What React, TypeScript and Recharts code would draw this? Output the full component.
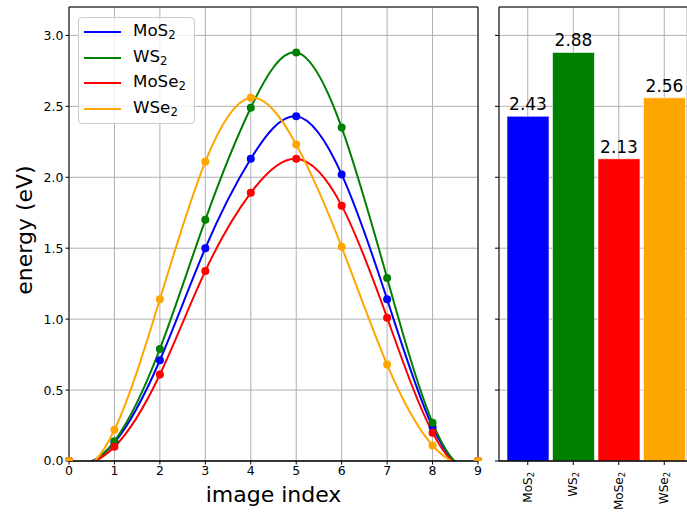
import React from 'react'
import {
  LineChart,
  Line,
  BarChart,
  Bar,
  Cell,
  XAxis,
  YAxis,
  CartesianGrid,
  ReferenceLine,
  Legend,
  LabelList,
} from 'recharts'

// NEB energy profiles for the four TMD monolayers
const imageIndex = [0, 1, 2, 3, 4, 5, 6, 7, 8, 9]
const mos2 = [0, 0.13, 0.71, 1.5, 2.13, 2.43, 2.02, 1.14, 0.24, 0]
const ws2 = [0, 0.14, 0.79, 1.7, 2.49, 2.88, 2.35, 1.29, 0.27, 0]
const mose2 = [0, 0.1, 0.61, 1.34, 1.89, 2.13, 1.8, 1.01, 0.2, 0]
const wse2 = [0, 0.22, 1.14, 2.11, 2.56, 2.23, 1.51, 0.68, 0.11, 0]

const materials = ['MoS2', 'WS2', 'MoSe2', 'WSe2']
const colors = ['#0000ff', '#008000', '#ff0000', '#ffa500']
const barriers = [2.43, 2.88, 2.13, 2.56]

const energyTicks = [0, 0.5, 1, 1.5, 2, 2.5, 3]

const profiles = [mos2, ws2, mose2, wse2]

const lineData = imageIndex.map((x, i) => {
  const row: Record<string, number> = { x }
  materials.forEach((m, k) => {
    row[m] = profiles[k][i]
  })
  return row
})

const barData = materials.map((name, i) => ({ name, value: barriers[i] }))

const FONT = '"DejaVu Sans", sans-serif'
const GRID = '#b0b0b0'

// Cubic spline with not-a-knot end conditions, as a d3-style curve factory.
// Solves for the second derivatives and emits one bezier per segment.
function notAKnotSpline(context: any) {
  let xs: number[] = []
  let ys: number[] = []

  const solve = (A: number[][], b: number[]) => {
    const n = b.length
    for (let c = 0; c < n; c++) {
      let p = c
      for (let r = c + 1; r < n; r++) if (Math.abs(A[r][c]) > Math.abs(A[p][c])) p = r
      ;[A[c], A[p]] = [A[p], A[c]]
      ;[b[c], b[p]] = [b[p], b[c]]
      for (let r = c + 1; r < n; r++) {
        const f = A[r][c] / A[c][c]
        for (let k = c; k < n; k++) A[r][k] -= f * A[c][k]
        b[r] -= f * b[c]
      }
    }
    const out = new Array(n).fill(0)
    for (let r = n - 1; r >= 0; r--) {
      let s = b[r]
      for (let k = r + 1; k < n; k++) s -= A[r][k] * out[k]
      out[r] = s / A[r][r]
    }
    return out
  }

  const draw = () => {
    const n = xs.length
    if (!n) return
    context.moveTo(xs[0], ys[0])
    if (n < 4) {
      for (let i = 1; i < n; i++) context.lineTo(xs[i], ys[i])
      return
    }
    const h = xs.slice(1).map((x, i) => x - xs[i])
    const A = Array.from({ length: n }, () => new Array(n).fill(0))
    const b = new Array(n).fill(0)
    A[0][0] = h[1]
    A[0][1] = -(h[0] + h[1])
    A[0][2] = h[0]
    for (let i = 1; i < n - 1; i++) {
      A[i][i - 1] = h[i - 1]
      A[i][i] = 2 * (h[i - 1] + h[i])
      A[i][i + 1] = h[i]
      b[i] = 6 * ((ys[i + 1] - ys[i]) / h[i] - (ys[i] - ys[i - 1]) / h[i - 1])
    }
    A[n - 1][n - 3] = h[n - 2]
    A[n - 1][n - 2] = -(h[n - 3] + h[n - 2])
    A[n - 1][n - 1] = h[n - 3]
    const M = solve(A, b)
    for (let i = 0; i < n - 1; i++) {
      const hi = h[i]
      const slope = (ys[i + 1] - ys[i]) / hi
      const d0 = slope - (hi * (2 * M[i] + M[i + 1])) / 6
      const d1 = slope + (hi * (M[i] + 2 * M[i + 1])) / 6
      context.bezierCurveTo(
        xs[i] + hi / 3,
        ys[i] + (hi / 3) * d0,
        xs[i + 1] - hi / 3,
        ys[i + 1] - (hi / 3) * d1,
        xs[i + 1],
        ys[i + 1],
      )
    }
  }

  return {
    areaStart() {},
    areaEnd() {},
    lineStart() {
      xs = []
      ys = []
    },
    lineEnd() {
      draw()
    },
    point(x: number, y: number) {
      xs.push(+x)
      ys.push(+y)
    },
  }
}

// split "MoSe2" -> ["MoSe", "2"]
function splitFormula(text: string) {
  const m = text.match(/^(.*?)(\d+)$/)
  return m ? [m[1], m[2]] : [text, '']
}

function HtmlFormula({ text }: { text: string }) {
  const [base, sub] = splitFormula(text)
  return (
    <span>
      {base}
      {sub && (
        <span style={{ fontSize: '0.7em', verticalAlign: '-0.28em' }}>{sub}</span>
      )}
    </span>
  )
}

// legend keeps the plotting order of the series
function LegendBox() {
  return (
    <div
      style={{
        width: 117,
        height: 107,
        boxSizing: 'border-box',
        border: '1px solid #cccccc',
        borderRadius: 4,
        background: 'rgba(255,255,255,0.8)',
        paddingTop: 1,
        fontFamily: FONT,
      }}
    >
      {materials.map((m, k) => (
        <div key={m} style={{ display: 'flex', alignItems: 'center', height: 25.7 }}>
          <div style={{ marginLeft: 5, width: 37, height: 2, background: colors[k] }} />
          <div style={{ marginLeft: 12, fontSize: 16.7, color: '#000', lineHeight: 1 }}>
            <HtmlFormula text={m} />
          </div>
        </div>
      ))}
    </div>
  )
}

// rotated category label under each bar
function BarTick(props: any) {
  const { x, y, payload } = props
  const [base, sub] = splitFormula(String(payload.value))
  return (
    <text
      transform={`translate(${x},${y + 5}) rotate(-90)`}
      textAnchor="end"
      dominantBaseline="central"
      fontSize={12}
      fill="#000"
      fontFamily={FONT}
    >
      {base}
      <tspan fontSize={8.4} dy={3}>
        {sub}
      </tspan>
    </text>
  )
}

const noTick = () => <g />

export default function App() {
  return (
    <div
      style={{
        position: 'absolute',
        left: 0,
        top: 0,
        width: 687,
        height: 516,
        background: '#fff',
        fontFamily: FONT,
      }}
    >
      <div style={{ position: 'absolute', left: 0, top: 0 }}>
        <LineChart
          width={490}
          height={516}
          data={lineData}
          margin={{ top: 7, right: 12, bottom: 0, left: 0 }}
        >
          <CartesianGrid stroke={GRID} strokeWidth={1} />
          <XAxis
            dataKey="x"
            type="number"
            domain={[0, 9]}
            ticks={imageIndex}
            interval={0}
            height={55}
            tickSize={3.5}
            axisLine={{ stroke: '#000', strokeWidth: 1.5 }}
            tickLine={{ stroke: '#000' }}
            tick={{ fill: '#000', fontSize: 12.5 }}
            label={{
              value: 'image index',
              position: 'insideBottom',
              offset: 14,
              fontSize: 22,
              fill: '#000',
            }}
          />
          <YAxis
            type="number"
            domain={[0, 3.2]}
            allowDataOverflow
            ticks={energyTicks}
            interval={0}
            width={69}
            tickSize={3.5}
            tickFormatter={(v: number) => v.toFixed(1)}
            axisLine={{ stroke: '#000' }}
            tickLine={{ stroke: '#000' }}
            tick={{ fill: '#000', fontSize: 12.5 }}
            label={{
              value: 'energy (eV)',
              angle: -90,
              position: 'center',
              dx: -10,
              dy: -4,
              fontSize: 22,
              fill: '#000',
            }}
          />
          <ReferenceLine y={3.2} stroke="#000" strokeWidth={1} />
          <ReferenceLine x={9} stroke="#000" strokeWidth={1} />
          {materials.map((m, k) => (
            <Line
              key={m}
              dataKey={m}
              name={m}
              type={notAKnotSpline as any}
              stroke={colors[k]}
              strokeWidth={2}
              dot={{ r: 4, fill: colors[k], stroke: colors[k], strokeWidth: 0 }}
              activeDot={false}
              isAnimationActive={false}
            />
          ))}
          <Legend
            layout="vertical"
            align="center"
            verticalAlign="middle"
            wrapperStyle={{ left: 78, top: 17, width: 117, height: 107 }}
            content={LegendBox}
          />
        </LineChart>
      </div>
      <div style={{ position: 'absolute', left: 490, top: 0 }}>
        <BarChart
          width={197}
          height={516}
          data={barData}
          margin={{ top: 7, right: 0, bottom: 0, left: 0 }}
        >
          <CartesianGrid stroke={GRID} strokeWidth={1} />
          <XAxis
            dataKey="name"
            height={55}
            interval={0}
            padding={{ left: 6, right: 0 }}
            tickSize={4}
            axisLine={{ stroke: '#000', strokeWidth: 1.5 }}
            tickLine={{ stroke: '#000' }}
            tick={<BarTick />}
          />
          <YAxis
            type="number"
            domain={[0, 3.2]}
            ticks={energyTicks}
            interval={0}
            width={9}
            tickSize={4}
            axisLine={{ stroke: '#000' }}
            tickLine={{ stroke: '#000' }}
            tick={noTick}
          />
          <ReferenceLine y={3.2} stroke="#000" strokeWidth={1} />
          <Bar
            dataKey="value"
            barSize={42}
            stroke="#ffffff"
            strokeOpacity={0.6}
            strokeWidth={1}
            isAnimationActive={false}
          >
            {barData.map((d, i) => (
              <Cell key={d.name} fill={colors[i]} />
            ))}
            <LabelList
              dataKey="value"
              position="top"
              offset={6}
              fontSize={17}
              fill="#000"
              formatter={(v: any) => Number(v).toFixed(2)}
            />
          </Bar>
        </BarChart>
      </div>
    </div>
  )
}
